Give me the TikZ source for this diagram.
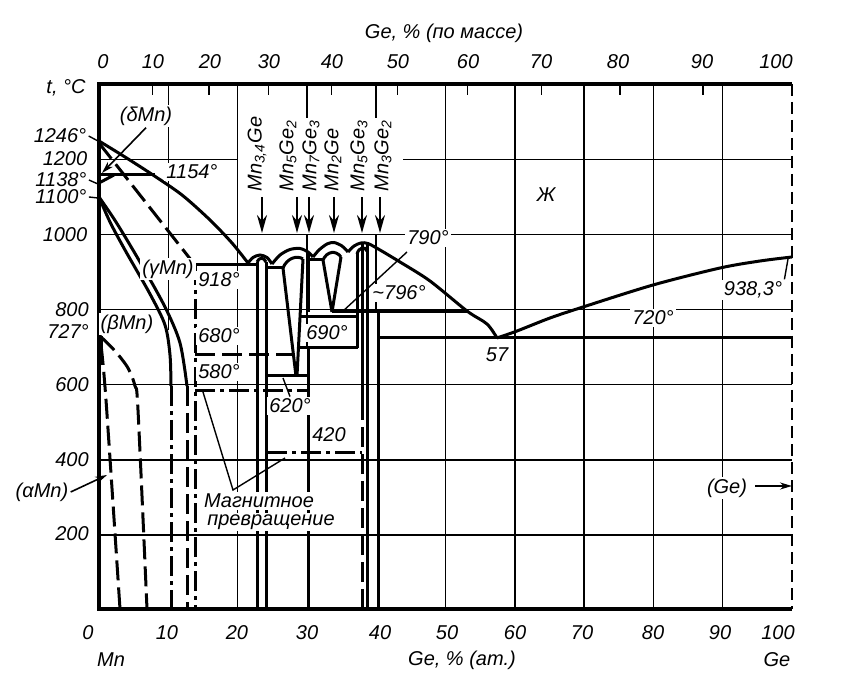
\documentclass[tikz,border=0pt]{standalone}
\usepackage{fontspec}
\setmainfont{Liberation Sans}
\usetikzlibrary{arrows.meta}
\begin{document}
\begin{tikzpicture}[x=0.5pt,y=-0.5pt,
  every node/.style={font=\itshape\fontsize{10}{12}\selectfont, inner sep=1pt},
  lbl/.style={fill=white},
  grid/.style={line width=0.75pt},
  frame/.style={line width=1.7pt},
  ph/.style={line width=1.5pt},
  phdash/.style={ph, dash pattern=on 10pt off 3.5pt},
  phdd/.style={ph, dash pattern=on 10pt off 2.5pt on 2pt off 2.5pt},
  lead/.style={line width=0.7pt},
  arr/.style={line width=1pt, -{Stealth[length=9pt,width=5pt]}},
  sarr/.style={line width=0.8pt, -{Stealth[length=6pt,width=3.5pt]}}]
\useasboundingbox (0,0) rectangle (852,700);
% ---------- grid ----------
\draw[grid] (168.3,84) -- (168.3,330);
\foreach \x in {237.6,445.5,514.8,584.1,653.4,722.7}
  \draw[grid] (\x,84) -- (\x,609);
\draw[grid] (306.9,84) -- (306.9,118);
\draw[grid] (306.9,234.5) -- (306.9,348);
\draw[grid] (376.2,84) -- (376.2,118);
\draw[grid] (376.2,234.5) -- (376.2,312);
\foreach \y in {534.9,459.8,384.7,309.6,234.5}
  \draw[grid] (99,\y) -- (792,\y);
\draw[grid] (99,159.4) -- (237.6,159.4);
\draw[grid] (403,159.4) -- (792,159.4);
% top ticks (mass %)
\foreach \x in {152.7,209.2,268.6,331.3,397.5,467.3,541.4,619.9,703.2}
  \draw[grid] (\x,84) -- (\x,95);
% ---------- frame ----------
\draw[frame] (792,84) -- (99,84) -- (99,609) -- (792,609);
\draw[grid, dash pattern=on 6pt off 3pt] (792,84) -- (792,609);
% ---------- Mn side ----------
\draw[ph] plot[smooth] coordinates {(99,141) (125,157) (153,175) (182,195) (210,220) (232,243) (248,263)};
\draw[phdash] (99,143) -- (195,265);
\draw[ph] (99,175) -- (155,175);
\draw[ph] (99,183) -- (114,175);
\draw[ph] plot[smooth] coordinates {(99,197) (110,222) (125,250) (150,294) (165,325) (170,355) (171,386)};
\draw[ph] plot[smooth] coordinates {(99,197) (116,222) (140,262) (165,307) (180,343) (187,386)};
\draw[phdd] (171,386) -- (171,609);
\draw[phdash] (187,386) -- (187,609);
\draw[phdd] (195,265) -- (195,609);
\draw[phdash] plot[smooth] coordinates {(100,336) (115,351) (128,368) (135,386) (138,410) (147,609)};
\draw[phdash] plot[smooth] coordinates {(101,345) (106,400) (120,609)};
\draw[line width=2.5pt] (100.5,336) -- (100.5,365);
% ---------- compounds ----------
\draw[ph] (195,265) -- (257,265);
\draw[ph] (257,262) -- (257,609);
\draw[ph] (266,262) -- (266,609);
\draw[ph] plot[smooth] coordinates {(248,263) (253,257.5) (260,255) (267,257.5) (272,264)};
\draw[ph] (257,262) .. controls (259,257) and (264,257) .. (266,262);
\draw[ph] plot[smooth] coordinates {(272,264) (280,255) (290,249.5) (300,248.5) (308,252) (313,257)};
\draw[ph] (283,268) .. controls (287,258) and (297,255) .. (303,259);
\draw[ph] plot[smooth] coordinates {(313,257) (319,250) (327,244) (334,242.5) (342,246) (348,252)};
\draw[ph] (323,260) .. controls (327,251) and (336,250) .. (341,257);
\draw[ph] plot[smooth] coordinates {(348,252) (354,246) (361,243) (368,243.5) (380,250) (400,262) (430,281) (467,311) (487,324) (497,338)};
\draw[ph] (357,254) .. controls (359,247) and (365,246) .. (367,251);
\draw[ph] (266,268) -- (283,268);
\draw[ph] (283,268) -- (296,376);
\draw[ph] (303,259) -- (297,376);
\draw[ph] (266,376) -- (308,376);
\draw[phdash] (195,355) -- (294,355);
\draw[phdd] (195,391) -- (308,391);
\draw[ph] (308,254) -- (308,312);
\draw[ph] (308,260) -- (323,260);
\draw[ph] (308,348) -- (308,609);
\draw[ph] (323,260) -- (332,312);
\draw[ph] (341,257) -- (332,312);
\draw[ph] (300,317) -- (358,317);
\draw[ph] (298.5,348) -- (358,348);
\draw[ph] (357,252) -- (357,348);
\draw[ph] (362,243) -- (362,400);
\draw[phdash] (362,400) -- (362,609);
\draw[ph] (367,244) -- (367,609);
\draw[ph] (332,312) -- (467,312);
\draw[ph] (378,312) -- (378,609);
\draw[ph] (378,338) -- (792,338);
\draw[ph] plot[smooth] coordinates {(497,338) (517,331) (550,318) (583,307) (653,285) (720,268) (760,261) (792,257)};
\draw[phdd] (267,452) -- (362,452);
% ---------- axis labels ----------
\node (ttop) at (444,33) {Ge, \% (по массе)};
\foreach \x/\t [count=\i] in {103/0,153/10,210/20,269/30,332/40,398/50,468/60,541/70,618/80,702/90,776/100}
  \node (wt\i) at (\x,62) {\t};
\foreach \x/\t [count=\i] in {88/0,167/10,237/20,307/30,380/40,447/50,515/60,582/70,653/80,720/90,778/100}
  \node (at\i) at (\x,633) {\t};
\node (tC) at (66,88) {t, °C};
\node (t1246) at (60,136) {1246°};
\node (t1200) at (65,159) {1200};
\node (t1138) at (61,180) {1138°};
\node (t1100) at (61,197) {1100°};
\node (t1000) at (65,235) {1000};
\node (t800) at (72,310) {800};
\node (t727) at (68,332) {727°};
\node (t600) at (72,385) {600};
\node (t400) at (72,460) {400};
\node (tal) at (42,492) {(αMn)};
\node (t200) at (72,534) {200};
\node (tMn) at (111,660) {Mn};
\node (tat) at (462,660) {Ge, \% (ат.)};
\node (tGe) at (777,660) {Ge};
% ---------- inner labels ----------
\node[lbl] (ldel) at (146,116) {(δMn)};
\node[lbl] (l1154) at (192,172) {1154°};
\node[lbl] (lgam) at (168,269) {(γMn)};
\node[lbl] (l918) at (219,280) {918°};
\node[lbl] (lbet) at (127,324) {(βMn)};
\node[lbl] (l680) at (219,336) {680°};
\node[lbl] (l580) at (219,372) {580°};
\node[lbl] (l620) at (290,406) {620°};
\node[lbl] (l690) at (327,333) {690°};
\node[lbl] (l796) at (399,293) {\textasciitilde796°};
\node[lbl] (l790) at (428,238) {790°};
\node[lbl] (lL) at (546,195) {Ж};
\node[lbl] (l420) at (329,435) {420};
\node[lbl] (lmag1) at (259,501) {Магнитное};
\node[lbl] (lmag2) at (271,522) {превращение};
\node[lbl] (l938) at (753,290) {938,3°};
\node[lbl] (l720) at (653,318) {720°};
\node[lbl] (l57) at (497,355) {57};
\node[lbl] (lGe) at (727,488) {(Ge)};
% compound labels
\node[rotate=90,anchor=west] (c1) at (257,194) {Mn\textsubscript{3,4}Ge};
\node[rotate=90,anchor=west] (c2) at (288,194) {Mn\textsubscript{5}Ge\textsubscript{2}};
\node[rotate=90,anchor=west] (c3) at (311,194) {Mn\textsubscript{7}Ge\textsubscript{3}};
\node[rotate=90,anchor=west] (c4) at (333,194) {Mn\textsubscript{2}Ge};
\node[rotate=90,anchor=west] (c5) at (359,194) {Mn\textsubscript{5}Ge\textsubscript{3}};
\node[rotate=90,anchor=west] (c6) at (383,194) {Mn\textsubscript{3}Ge\textsubscript{2}};
\foreach \x [count=\i] in {262,297,309,334,362,380}{
  \coordinate (as\i) at (\x,197);
  \coordinate (ae\i) at (\x,233);
  \draw[arr] (as\i) -- (ae\i);}
% ---------- leaders ----------
\coordinate (p1246) at (98,141);
\coordinate (p1138) at (98,184);
\coordinate (p1100) at (98,198);
\coordinate (pdel) at (102,173);
\coordinate (pal) at (107,475);
\coordinate (p938) at (788,259);
\coordinate (q790) at (407,252);
\coordinate (p790) at (342,312);
\coordinate (p620) at (283,378);
\coordinate (pm0) at (203,392);
\coordinate (pm1) at (233,490);
\coordinate (pm2) at (285,458);
\coordinate (sGe) at (755,486);
\coordinate (pGe) at (792,486);
\draw[lead] (t1246.east) -- (p1246);
\draw[lead] (t1138.east) -- (p1138);
\draw[lead] (t1100.east) -- (p1100);
\draw[sarr] (ldel.south) -- (pdel);
\draw[sarr] (tal.east) -- (pal);
\draw[lead] (l938.north east) -- (p938);
\draw[lead] (q790) -- (p790);
\draw[lead] (l620.north) -- (p620);
\draw[lead] (pm0) -- (pm1) -- (pm2);
\draw[sarr] (sGe) -- (pGe);
\end{tikzpicture}
\end{document}
